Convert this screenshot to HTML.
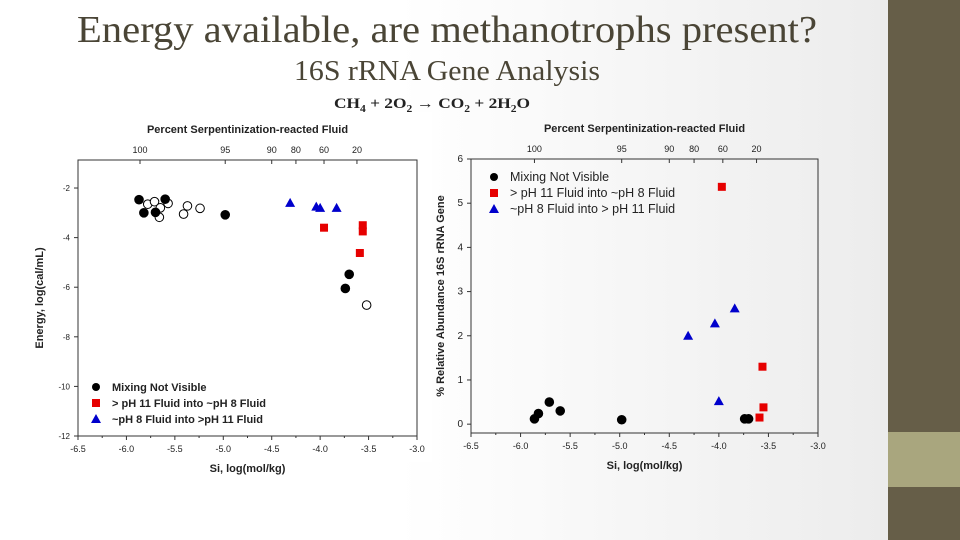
<!DOCTYPE html>
<html><head><meta charset="utf-8"><style>
html,body{margin:0;padding:0;width:960px;height:540px;overflow:hidden;font-family:"Liberation Sans",sans-serif;}
#bg{position:absolute;left:0;top:0;width:888px;height:540px;background:linear-gradient(90deg,#ffffff 0%,#ffffff 45%,#ececec 100%);}
#side{position:absolute;left:888px;top:0;width:72px;height:540px;background:#665e48;}
#band{position:absolute;left:888px;top:432px;width:72px;height:55px;background:#a9a67e;}
svg{position:absolute;left:0;top:0;}
</style></head><body>
<div id="bg"></div>
<div id="side"></div>
<div id="band"></div>
<svg id="s" width="960" height="540" xmlns="http://www.w3.org/2000/svg">
<text x="447" y="42" text-anchor="middle" font-family="Liberation Serif, serif" font-size="38" fill="#4a4536" textLength="740" lengthAdjust="spacingAndGlyphs">Energy available, are methanotrophs present?</text>
<text x="447" y="80" text-anchor="middle" font-family="Liberation Serif, serif" font-size="28" fill="#4a4536" textLength="306" lengthAdjust="spacingAndGlyphs">16S rRNA Gene Analysis</text>
<text x="432" y="108" text-anchor="middle" font-family="Liberation Serif, serif" font-size="15" font-weight="bold" fill="#222" textLength="196" lengthAdjust="spacingAndGlyphs">CH<tspan font-size="10" dy="4">4</tspan><tspan dy="-4"> + 2O</tspan><tspan font-size="10" dy="4">2</tspan><tspan dy="-4"> → CO</tspan><tspan font-size="10" dy="4">2</tspan><tspan dy="-4"> + 2H</tspan><tspan font-size="10" dy="4">2</tspan><tspan dy="-4">O</tspan></text>
<g id="c1"></g><g id="c2"></g>
</svg>
<script>
const xTicks=[-6.5,-6.0,-5.5,-5.0,-4.5,-4.0,-3.5,-3.0];
const topTickVals=[-5.86,-4.98,-4.5,-4.25,-3.96,-3.62];
const topTickLabels=["100","95","90","80","60","20"];
const e_blackX=[-5.87,-5.82,-5.6,-5.7,-4.98,-3.7,-3.74];
const e_blackY=[-2.47,-3.0,-2.45,-2.98,-3.08,-5.48,-6.05];
const e_openX=[-5.78,-5.71,-5.65,-5.66,-5.57,-5.41,-5.37,-5.24,-3.52];
const e_openY=[-2.65,-2.55,-2.8,-3.18,-2.62,-3.05,-2.72,-2.82,-6.72];
const e_redX=[-3.96,-3.56,-3.56,-3.59];
const e_redY=[-3.6,-3.5,-3.75,-4.62];
const e_blueX=[-4.31,-4.04,-4.0,-3.83];
const e_blueY=[-2.6,-2.75,-2.8,-2.8];
const eTicks=[-2,-4,-6,-8,-10,-12];
const a_blackX=[-5.86,-5.82,-5.71,-5.6,-4.98,-3.74,-3.7];
const a_blackY=[0.12,0.24,0.5,0.3,0.1,0.12,0.12];
const a_redX=[-3.97,-3.56,-3.55,-3.59];
const a_redY=[5.37,1.3,0.38,0.15];
const a_blueX=[-4.31,-4.04,-3.84,-4.0];
const a_blueY=[2.0,2.28,2.62,0.52];
const aTicks=[0,1,2,3,4,5,6];
const NS="http://www.w3.org/2000/svg";
function mk(p,tag,at,txt){const e=document.createElementNS(NS,tag);for(const k in at)e.setAttribute(k,at[k]);if(txt!==undefined)e.textContent=txt;p.appendChild(e);return e;}
function chart(g,o){
  const X=v=>o.x0+(v+6.5)/3.5*(o.x1-o.x0);
  const Y=v=>o.y0+(v-o.ymin)/(o.ymax-o.ymin)*(o.y1-o.y0);
  if(o.white){const r=mk(g,'rect',{x:30,y:112,width:402,height:350,fill:'#fff'});}
  const fr=mk(g,'rect',{x:o.x0,y:o.y1,width:o.x1-o.x0,height:o.y0-o.y1,fill:'none',stroke:'#333','stroke-width':1});
  
  xTicks.forEach((t,i)=>{const x=X(t);mk(g,'line',{x1:x,y1:o.y0,x2:x,y2:o.y0+4,stroke:'#333'});
    if(i<xTicks.length-1)mk(g,'line',{x1:X(t+0.25),y1:o.y0,x2:X(t+0.25),y2:o.y0+2,stroke:'#333'});
    const l=mk(g,'text',{x:x,y:o.y0+16,'font-size':9,'text-anchor':'middle',fill:'#222'},t.toFixed(1));
    });
  topTickVals.forEach((t,i)=>{const x=X(t);mk(g,'line',{x1:x,y1:o.y1,x2:x,y2:o.y1+4,stroke:'#333'});
    const l=mk(g,'text',{x:x,y:o.y1-7,'font-size':9,'text-anchor':'middle',fill:'#222'},topTickLabels[i]);
    });
  o.yt.forEach(t=>{const y=Y(t);mk(g,'line',{x1:o.x0,y1:y,x2:o.x0-4,y2:y,stroke:'#333'});
    const l=mk(g,'text',{x:o.x0-8,y:y+3,'font-size':o.yfs,'text-anchor':'end',fill:'#222'},String(t));
    });
  let t=mk(g,'text',{x:(o.x0+o.x1)/2,y:o.y1-27,'font-size':11,'font-weight':'bold','text-anchor':'middle',fill:'#222'},'Percent Serpentinization-reacted Fluid');
  
  t=mk(g,'text',{x:(o.x0+o.x1)/2,y:o.y0+36,'font-size':11,'font-weight':'bold','text-anchor':'middle',fill:'#222'},'Si, log(mol/kg)');
  
  t=mk(g,'text',{x:0,y:0,'font-size':11,'font-weight':'bold','text-anchor':'middle',fill:'#222',transform:`translate(${o.ylx},${(o.y0+o.y1)/2}) rotate(-90)`},o.ylab);
  
  function circ(xs,ys,fill){xs.forEach((v,i)=>{const c=mk(g,'circle',{cx:X(v),cy:Y(ys[i]),r:4.3,fill:fill,stroke:'#000','stroke-width':1});
    });}
  function sq(xs,ys){xs.forEach((v,i)=>{const c=mk(g,'rect',{x:X(v)-4,y:Y(ys[i])-4,width:8,height:8,fill:'#e60000'});
    });}
  function tri(xs,ys){xs.forEach((v,i)=>{const x=X(v),y=Y(ys[i]);const c=mk(g,'polygon',{points:`${x},${y-5} ${x-5},${y+4} ${x+5},${y+4}`,fill:'#0000cc'});
    });}
  if(o.open)circ(o.open[0],o.open[1],'#fff');
  circ(o.bk[0],o.bk[1],'#000');sq(o.rd[0],o.rd[1]);tri(o.bl[0],o.bl[1]);
  const L=o.leg;const labs=o.legLabs;
  labs.forEach((s,i)=>{const y=L.y+i*16;const e=mk(g,'g',{});
    
    if(i===0)mk(e,'circle',{cx:L.x,cy:y,r:4,fill:'#000'});
    if(i===1)mk(e,'rect',{x:L.x-4,y:y-4,width:8,height:8,fill:'#e60000'});
    if(i===2)mk(e,'polygon',{points:`${L.x},${y-5} ${L.x-5},${y+4} ${L.x+5},${y+4}`,fill:'#0000cc'});
    mk(e,'text',{x:L.x+16,y:y+4,'font-size':L.fs,'font-weight':L.bold?'bold':'normal',fill:'#222'},s);});
}
chart(document.getElementById('c1'),{white:true,x0:78,x1:417,y0:436,y1:160,ymin:-12,ymax:-0.87,yt:eTicks,yfs:8,ylx:43,ylab:'Energy, log(cal/mL)',
  open:[e_openX,e_openY],bk:[e_blackX,e_blackY],rd:[e_redX,e_redY],bl:[e_blueX,e_blueY],
  leg:{x:96,y:387,fs:11,bold:true},legLabs:['Mixing Not Visible','> pH 11 Fluid into ~pH 8 Fluid','~pH 8 Fluid into >pH 11 Fluid']});
chart(document.getElementById('c2'),{x0:471,x1:818,y0:433,y1:159,ymin:-0.2,ymax:6,yt:aTicks,yfs:10,ylx:444,ylab:'% Relative Abundance 16S rRNA Gene',
  bk:[a_blackX,a_blackY],rd:[a_redX,a_redY],bl:[a_blueX,a_blueY],
  leg:{x:494,y:177,fs:12.5,bold:false},legLabs:['Mixing Not Visible','> pH 11 Fluid into ~pH 8 Fluid','~pH 8 Fluid into > pH 11 Fluid']});
</script>
</body></html>
